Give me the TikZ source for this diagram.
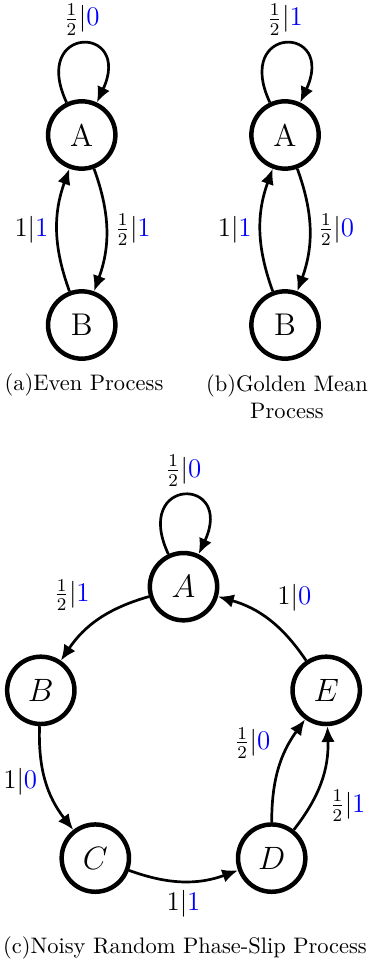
\documentclass[tikz,border=0pt]{standalone}
\usetikzlibrary{arrows.meta}
\newcommand{\tlab}[2]{$#1|\textcolor{blue}{#2}$}
\begin{document}
\begin{tikzpicture}[
    state/.style={circle,draw,line width=2pt,minimum size=30pt,inner sep=0pt,
      font=\fontsize{14}{16}\selectfont},
    trans/.style={->,line width=1.2pt,font=\fontsize{11.5}{14}\selectfont},
    >={Latex[length=7pt,width=6pt]},
    selfloop/.style={out=115,in=65,min distance=1.35cm}]
  \useasboundingbox (0,0) rectangle (5.764,-15.176);
  % (a) even process
  \draw
    (1.28,-2.114) node[state] (a1) {A}
    (1.28,-5.09) node[state] (b1) {B};
  \begin{scope}[trans]
    \draw (a1) to[selfloop] node[above] {\tlab{\frac12}{0}} (a1);
    \draw (a1) to[bend left=20] node[right] {\tlab{\frac12}{1}} (b1);
    \draw (b1) to[bend left=20] node[left] {\tlab{1}{1}} (a1);
  \end{scope}
  \node (capa) at (1.316,-6.03) {(a)Even Process};
  % (b) golden mean process
  \draw
    (4.464,-2.114) node[state] (a2) {A}
    (4.464,-5.09) node[state] (b2) {B};
  \begin{scope}[trans]
    \draw (a2) to[selfloop] node[above] {\tlab{\frac12}{1}} (a2);
    \draw (a2) to[bend left=20] node[right] {\tlab{\frac12}{0}} (b2);
    \draw (b2) to[bend left=20] node[left] {\tlab{1}{1}} (a2);
  \end{scope}
  \node[align=center] (capb) at (4.495,-6.21) {(b)Golden Mean\\Process};
  % (c) noisy random phase-slip process
  \begin{scope}[shift={(2.874,-11.538)}]
    \draw
      (90:2.35) node[state] (A) {$A$}
      (162:2.35) node[state] (B) {$B$}
      (234:2.35) node[state] (C) {$C$}
      (306:2.35) node[state] (D) {$D$}
      (18:2.35) node[state] (E) {$E$};
  \end{scope}
  \begin{scope}[trans]
    \draw (A) to[selfloop] node[above] {\tlab{\frac12}{0}} (A);
    \draw (A) to[bend right=20] node[above left] {\tlab{\frac12}{1}} (B);
    \draw (B) to[bend right=20] node[left] {\tlab{1}{0}} (C);
    \draw (C) to[bend right=20] node[below] {\tlab{1}{1}} (D);
    \draw (D) to[bend left=18] node[above left] {\tlab{\frac12}{0}} (E);
    \draw (D) to[bend right=20] node[below right] {\tlab{\frac12}{1}} (E);
    \draw (E) to[bend right=20] node[above right] {\tlab{1}{0}} (A);
  \end{scope}
  \node (capc) at (2.897,-14.85) {(c)Noisy Random Phase-Slip Process};
\end{tikzpicture}
\end{document}
